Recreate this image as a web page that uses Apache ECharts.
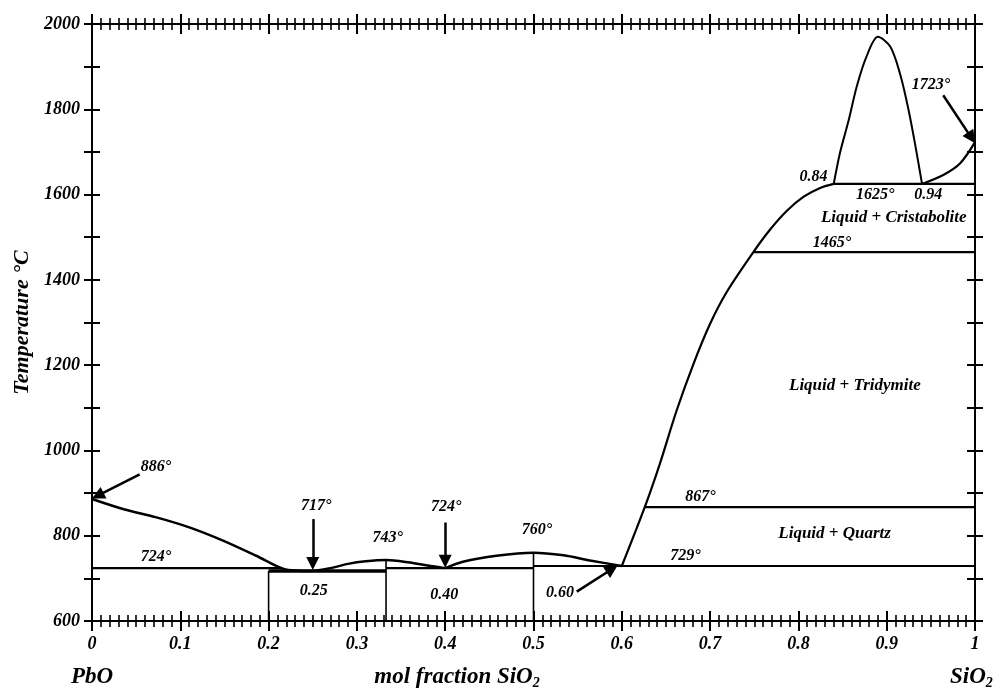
<!DOCTYPE html>
<html><head><meta charset="utf-8">
<script src="https://cdn.jsdelivr.net/npm/echarts@6/dist/echarts.min.js"></script>
<style>html,body{margin:0;padding:0;background:#fff}#c{width:993px;height:688px}</style>
</head><body><div id="c"></div>
<script>
// ---------- data ----------
const xTickLabels = ['0','0.1','0.2','0.3','0.4','0.5','0.6','0.7','0.8','0.9','1'];
const yTickLabels = ['600','800','1000','1200','1400','1600','1800','2000'];

const liquidusPbO = [[0,886],[0.036,862],[0.073,843],[0.111,819],[0.149,788],[0.186,753],[0.217,722],[0.235,718],[0.25,717]];
const dome1 = [[0.25,717],[0.27,724],[0.29,734],[0.31,740],[0.333,743],[0.36,737],[0.38,730],[0.40,724]];
const dome2 = [[0.40,724],[0.42,739],[0.458,753],[0.5,760],[0.534,754],[0.564,742],[0.6,729]];
const liquidusSilica = [[0.6,729],[0.626,867],[0.643,968],[0.662,1093],[0.681,1202],[0.700,1297],[0.719,1372],[0.749,1465],[0.768,1518],[0.787,1562],[0.806,1595],[0.824,1615],[0.84,1625]];
const miscibilityDome = [[0.84,1625],[0.847,1697],[0.857,1775],[0.866,1853],[0.877,1923],[0.89,1970],[0.904,1947],[0.915,1884],[0.924,1806],[0.932,1720],[0.94,1625]];
const cristobaliteLiquidus = [[0.94,1625],[0.964,1646],[0.983,1673],[1.0,1723]];

const invariantLines = [
  [[0,724],[0.215,724]],
  [[0.333,724],[0.5,724]],
  [[0.5,729],[1,729]],
  [[0.626,867],[1,867]],
  [[0.749,1465],[1,1465]],
  [[0.84,1625],[1,1625]]
];
const eutecticLine = [[0.2,717],[0.333,717]];
const verticalLines = [
  [[0.2,600],[0.2,717]],
  [[0.333,600],[0.333,743]],
  [[0.5,600],[0.5,760]]
];
const arrows = [
  [[0.054,944],[0.0065,894]],
  [[0.25,839],[0.25,735]],
  [[0.4,831],[0.4,740]],
  [[0.549,669],[0.589,722]],
  [[0.964,1833],[0.9960,1733]]
];
const valueLabels = [
  ['886°',0.0725,961],['724°',0.0725,750],['717°',0.254,870],['743°',0.335,794],
  ['724°',0.401,867],['760°',0.504,813],['0.25',0.251,670],['0.40',0.399,661],
  ['0.60',0.530,666],['729°',0.672,752],['867°',0.689,891],['1465°',0.838,1487],
  ['1625°',0.887,1599],['0.94',0.947,1599],['0.84',0.817,1642],['1723°',0.950,1857]
];
const regionLabels = [
  ['Liquid + Quartz',0.841,806],['Liquid + Tridymite',0.864,1153],['Liquid + Cristabolite',0.908,1547]
];

// ---------- chart ----------
const FONT = "'Liberation Serif','Times New Roman',serif";
const black = '#000';
const chart = echarts.init(document.getElementById('c'), null, {renderer:'canvas'});

function mkX(position, inside, showLabel) {
  return {
    type:'value', position, min:0, max:1, interval:0.1,
    axisLine:{show:true, onZero:false, lineStyle:{color:black, width:2}},
    axisTick:{show:true, inside, length:10, lineStyle:{color:black, width:2}},
    minorTick:{show:true, splitNumber:10, length:6, lineStyle:{color:black, width:1.6}},
    splitLine:{show:false},
    axisLabel:{show:showLabel, margin:14, color:black, fontFamily:FONT, fontStyle:'italic', fontWeight:'bold', fontSize:18,
      formatter:(v)=>xTickLabels[Math.round(v*10)]}
  };
}
function mkY(position, inside, showLabel, name) {
  return {
    type:'value', position, min:600, max:2000, interval:200,
    name: name || '', nameLocation:'middle', nameGap:56, nameRotate:90,
    nameTextStyle:{color:black, fontFamily:FONT, fontStyle:'italic', fontWeight:'bold', fontSize:22},
    axisLine:{show:true, onZero:false, lineStyle:{color:black, width:2}},
    axisTick:{show:true, inside, length:8, lineStyle:{color:black, width:2}},
    minorTick:{show:true, splitNumber:2, length:8, lineStyle:{color:black, width:2}},
    splitLine:{show:false},
    axisLabel:{show:showLabel, margin:12, color:black, fontFamily:FONT, fontStyle:'italic', fontWeight:'bold', fontSize:18,
      formatter:(v)=>yTickLabels[Math.round((v-600)/200)]}
  };
}

function lineSeries(data, width, smooth) {
  return {type:'line', data, xAxisIndex:0, yAxisIndex:0, symbol:'none', showSymbol:false,
    smooth: smooth || false, lineStyle:{color:black, width}, silent:true, z:3, emphasis:{disabled:true}};
}

const series = [];
const s0 = lineSeries(liquidusPbO, 2.5, 0.3);
s0.markLine = {
  silent:true, symbol:['none','triangle'], symbolSize:13, animation:false,
  label:{show:false}, emphasis:{disabled:true},
  lineStyle:{color:black, width:2.5, type:'solid'},
  itemStyle:{color:black},
  data: arrows.map(a => [{coord:a[0]},{coord:a[1]}])
};
series.push(s0);
series.push(lineSeries(dome1, 2.5, 0.3));
series.push(lineSeries(dome2, 2.5, 0.3));
series.push(lineSeries(liquidusSilica, 2.2, 0.3));
series.push(lineSeries(miscibilityDome, 2, 0.3));
series.push(lineSeries(cristobaliteLiquidus, 2.2, 0.3));
invariantLines.forEach(l => series.push(lineSeries(l, 2.2)));
series.push(lineSeries(eutecticLine, 3.5));
verticalLines.forEach(l => series.push(lineSeries(l, 1.6)));

const labelBase = {show:true, position:'inside', color:black, opacity:1, fontFamily:FONT, fontStyle:'italic', fontWeight:'bold'};
const labelItem = {color:'transparent', opacity:1};
series.push({
  type:'scatter', xAxisIndex:0, yAxisIndex:0, symbolSize:1, itemStyle:labelItem, silent:true, z:5,
  label:Object.assign({fontSize:16}, labelBase),
  data: valueLabels.map(([t,x,y]) => ({value:[x,y], label:{formatter:t}}))
});
series.push({
  type:'scatter', xAxisIndex:0, yAxisIndex:0, symbolSize:1, itemStyle:labelItem, silent:true, z:5,
  label:Object.assign({fontSize:17}, labelBase),
  data: regionLabels.map(([t,x,y]) => ({value:[x,y], label:{formatter:t}}))
});

const titleFont = {fontFamily:FONT, fontStyle:'italic', fontWeight:'bold', fill:black};
const subRich = {a:Object.assign({fontSize:23, lineHeight:26}, titleFont), b:Object.assign({fontSize:14, lineHeight:26, verticalAlign:'bottom', padding:[14,0,0,0]}, titleFont)};
chart.setOption({
  animation:false,
  backgroundColor:'#fff',
  grid:{left:92, right:18, top:24, bottom:67, containLabel:false},
  xAxis:[mkX('bottom',false,true), mkX('bottom',true,false), mkX('top',false,false), mkX('top',true,false)],
  yAxis:[mkY('left',false,true,'Temperature °C'), mkY('left',true,false), mkY('right',false,false), mkY('right',true,false)],
  series,
  graphic:[
    {type:'text', x:92, y:677, style:Object.assign({text:'PbO', fontSize:23, align:'center', verticalAlign:'middle'}, titleFont)},
    {type:'text', x:457, y:677, style:Object.assign({text:'{a|mol fraction SiO}{b|2}', align:'center', verticalAlign:'middle', rich:subRich}, titleFont)},
    {type:'text', x:950, y:677, style:Object.assign({text:'{a|SiO}{b|2}', align:'left', verticalAlign:'middle', rich:subRich}, titleFont)}
  ]
});
</script></body></html>
